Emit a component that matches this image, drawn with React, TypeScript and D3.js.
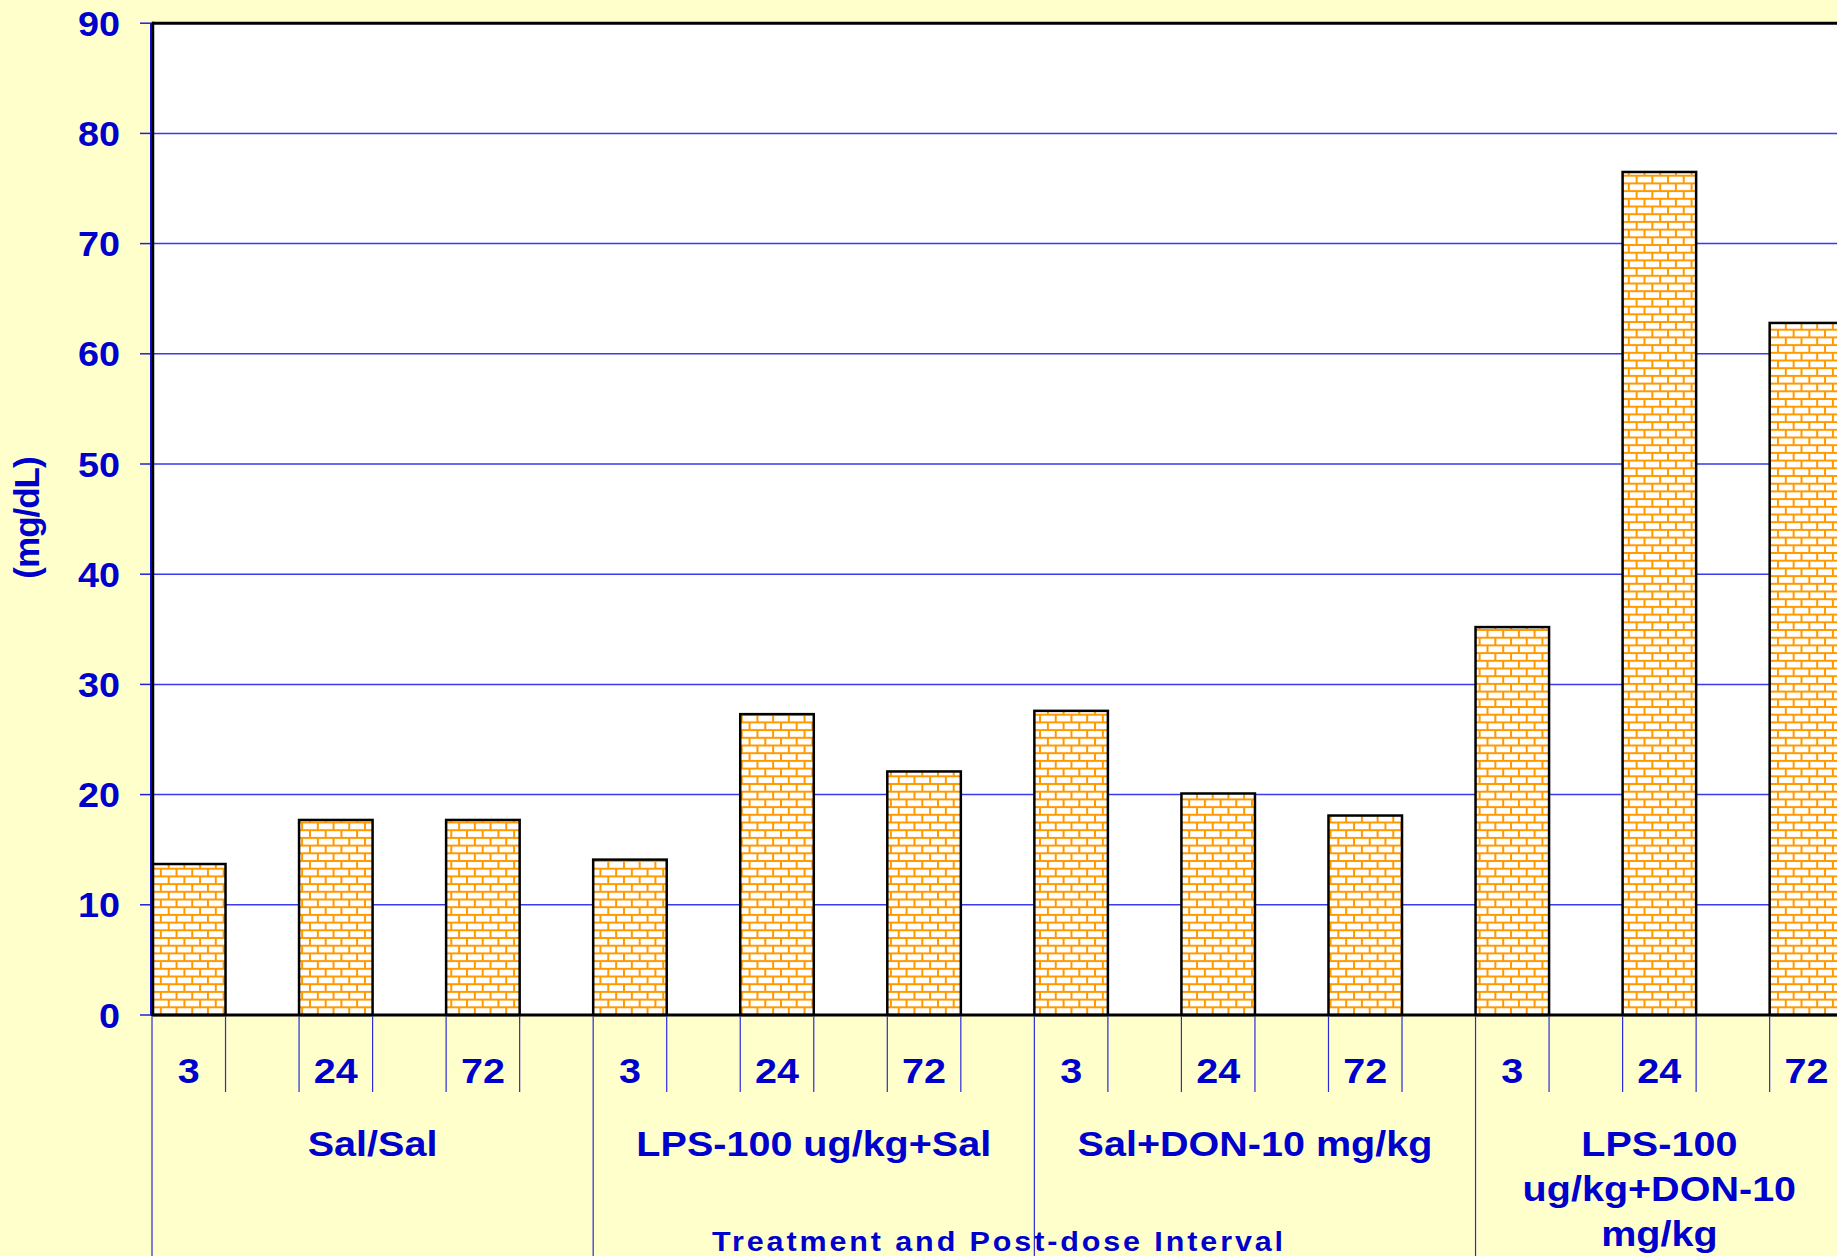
import React, { useEffect, useRef } from "react";
import * as d3 from "d3";

// chart data
const groups = ["Sal/Sal", "LPS-100 ug/kg+Sal", "Sal+DON-10 mg/kg", "LPS-100 ug/kg+DON-10 mg/kg"];
const intervals = ["3", "24", "72"];
const salSal = [13.7, 17.7, 17.7];
const lpsSal = [14.1, 27.3, 22.1];
const salDon = [27.6, 20.1, 18.1];
const lpsDon = [35.2, 76.5, 62.8];
const yTicks = [0, 10, 20, 30, 40, 50, 60, 70, 80, 90];
const yLabel = "(mg/dL)";
const xTitle = "Treatment and Post-dose Interval";

const seriesByGroup = [salSal, lpsSal, salDon, lpsDon];

const BLUE = "#0000CC";
const FONT = "'Liberation Sans', Arial, sans-serif";

export default function App() {
  const svgRef = useRef<SVGSVGElement>(null);

  useEffect(() => {
    const w = 1837;
    const h = 1256;
    const left = 152;
    const top = 23.2;
    const base = 1015;
    const slotW = 73.53;
    const stretch = 1.13;

    // each interval gets a bar slot followed by an empty slot (last empty slot absent)
    const slots: { key: string; label: string; value: number | null; group: number }[] = [];
    groups.forEach((g, gi) => {
      intervals.forEach((iv, ii) => {
        slots.push({ key: `${gi}-${ii}`, label: iv, value: seriesByGroup[gi][ii], group: gi });
        slots.push({ key: `${gi}-${ii}-gap`, label: "", value: null, group: gi });
      });
    });
    slots.pop();

    const svg = d3.select(svgRef.current).attr("width", w).attr("height", h);
    svg.selectAll("*").remove();

    const xScale = d3
      .scaleBand()
      .domain(slots.map((s) => s.key))
      .range([left, left + slots.length * slotW])
      .padding(0);
    const yScale = d3.scaleLinear().domain([0, 90]).range([base, top]);
    const right = left + slots.length * slotW;

    // brick pattern
    const pw = 15.7;
    const ph = 15.4;
    const pat = svg
      .append("defs")
      .append("pattern")
      .attr("id", "brick")
      .attr("patternUnits", "userSpaceOnUse")
      .attr("width", pw)
      .attr("height", ph)
      .attr("x", left)
      .attr("y", base);
    pat.append("rect").attr("width", pw).attr("height", ph).attr("fill", "#ffffff");
    const addLine = (x1: number, y1: number, x2: number, y2: number) => {
      pat
        .append("line")
        .attr("x1", x1)
        .attr("y1", y1)
        .attr("x2", x2)
        .attr("y2", y2)
        .attr("stroke", "#FF9900")
        .attr("stroke-width", 2);
    };
    addLine(0, 0, pw, 0);
    addLine(0, ph / 2, pw, ph / 2);
    addLine(0, ph, pw, ph);
    addLine(1, 0, 1, ph / 2);
    addLine(pw / 2 + 1, ph / 2, pw / 2 + 1, ph);

    // backgrounds
    svg.append("rect").attr("width", w).attr("height", h).attr("fill", "#FFFFCC");
    svg
      .append("rect")
      .attr("x", left)
      .attr("y", top)
      .attr("width", right - left)
      .attr("height", base - top)
      .attr("fill", "#ffffff");

    // gridlines + y ticks
    svg
      .append("g")
      .selectAll("line")
      .data(yTicks.filter((t) => t > 0 && t < 90))
      .enter()
      .append("line")
      .attr("x1", left)
      .attr("x2", right)
      .attr("y1", (d) => yScale(d))
      .attr("y2", (d) => yScale(d))
      .attr("stroke", "#3a3aee")
      .attr("stroke-width", 1.5);

    svg
      .append("g")
      .selectAll("line")
      .data(yTicks)
      .enter()
      .append("line")
      .attr("x1", left - 12)
      .attr("x2", left)
      .attr("y1", (d) => yScale(d))
      .attr("y2", (d) => yScale(d))
      .attr("stroke", "#2020dd")
      .attr("stroke-width", 1.5);

    svg
      .append("g")
      .selectAll("text")
      .data(yTicks)
      .enter()
      .append("text")
      .attr("transform", (d) => `translate(${left - 32},${yScale(d) + 12.5}) scale(1.08,1)`)
      .attr("text-anchor", "end")
      .attr("font-family", FONT)
      .attr("font-weight", "bold")
      .attr("font-size", 35)
      .attr("fill", BLUE)
      .text((d) => d);

    // bars
    svg
      .append("g")
      .selectAll("rect")
      .data(slots.filter((s) => s.value !== null))
      .enter()
      .append("rect")
      .attr("x", (d) => xScale(d.key)!)
      .attr("y", (d) => yScale(d.value!))
      .attr("width", xScale.bandwidth())
      .attr("height", (d) => base - yScale(d.value!))
      .attr("fill", "url(#brick)")
      .attr("stroke", "#000000")
      .attr("stroke-width", 2.5);

    // frame
    svg
      .append("line")
      .attr("x1", left)
      .attr("x2", right)
      .attr("y1", top)
      .attr("y2", top)
      .attr("stroke", "#000")
      .attr("stroke-width", 3);
    svg
      .append("line")
      .attr("x1", left - 1)
      .attr("x2", left - 1)
      .attr("y1", top)
      .attr("y2", base)
      .attr("stroke", "#1010cc")
      .attr("stroke-width", 2);
    svg
      .append("line")
      .attr("x1", left + 1)
      .attr("x2", left + 1)
      .attr("y1", top - 1.5)
      .attr("y2", base)
      .attr("stroke", "#000")
      .attr("stroke-width", 2.5);
    svg
      .append("line")
      .attr("x1", left)
      .attr("x2", right)
      .attr("y1", base)
      .attr("y2", base)
      .attr("stroke", "#000")
      .attr("stroke-width", 3);

    // category ticks
    const edges = slots.map((s) => xScale(s.key)!).concat([right]);
    svg
      .append("g")
      .selectAll("line")
      .data(edges)
      .enter()
      .append("line")
      .attr("x1", (d) => d)
      .attr("x2", (d) => d)
      .attr("y1", base + 1.5)
      .attr("y2", (d, i) => (i % 6 === 0 ? h : 1092))
      .attr("stroke", "#2a2ad8")
      .attr("stroke-width", 1.2);

    svg
      .append("g")
      .selectAll("text")
      .data(slots.filter((s) => s.label !== ""))
      .enter()
      .append("text")
      .attr("transform", (d) => `translate(${xScale(d.key)! + xScale.bandwidth() / 2},1083) scale(${stretch},1)`)
      .attr("text-anchor", "middle")
      .attr("font-family", FONT)
      .attr("font-weight", "bold")
      .attr("font-size", 35)
      .attr("fill", BLUE)
      .text((d) => d.label);

    // group labels, wrapped to the group span
    const ctx = document.createElement("canvas").getContext("2d")!;
    ctx.font = `bold 35px 'Liberation Sans', Arial, sans-serif`;
    const measure = (s: string) => ctx.measureText(s).width * stretch;
    groups.forEach((g, gi) => {
      const x0 = xScale(`${gi}-0`)!;
      const x1 = Math.min(x0 + 6 * slotW, right);
      const maxW = x1 - x0 - 20;
      const words = g.split(" ");
      const lines: string[] = [];
      let cur = "";
      words.forEach((word) => {
        const test = cur ? cur + " " + word : word;
        if (cur && measure(test) > maxW) {
          lines.push(cur);
          cur = word;
        } else cur = test;
      });
      if (cur) lines.push(cur);
      lines.forEach((ln, li) => {
        svg
          .append("text")
          .attr("transform", `translate(${(x0 + x1) / 2},${1156 + li * 45}) scale(${stretch},1)`)
          .attr("text-anchor", "middle")
          .attr("font-family", FONT)
          .attr("font-weight", "bold")
          .attr("font-size", 35)
          .attr("fill", BLUE)
          .text(ln);
      });
    });

    // axis titles
    svg
      .append("text")
      .attr("transform", `translate(${(left + right) / 2},1251) scale(${stretch},1)`)
      .attr("text-anchor", "middle")
      .attr("font-family", FONT)
      .attr("font-weight", "bold")
      .attr("font-size", 27)
      .attr("textLength", 571 / stretch)
      .attr("lengthAdjust", "spacing")
      .attr("fill", BLUE)
      .text(xTitle);

    svg
      .append("text")
      .attr("transform", `translate(39,518) rotate(-90)`)
      .attr("text-anchor", "middle")
      .attr("font-family", FONT)
      .attr("font-weight", "bold")
      .attr("font-size", 35)
      .attr("letter-spacing", -1)
      .attr("fill", BLUE)
      .text(yLabel);
  }, []);

  return (
    <div style={{ position: "fixed", left: 0, top: 0, width: 1837, height: 1256, overflow: "hidden" }}>
      <svg ref={svgRef} style={{ display: "block" }}></svg>
    </div>
  );
}
